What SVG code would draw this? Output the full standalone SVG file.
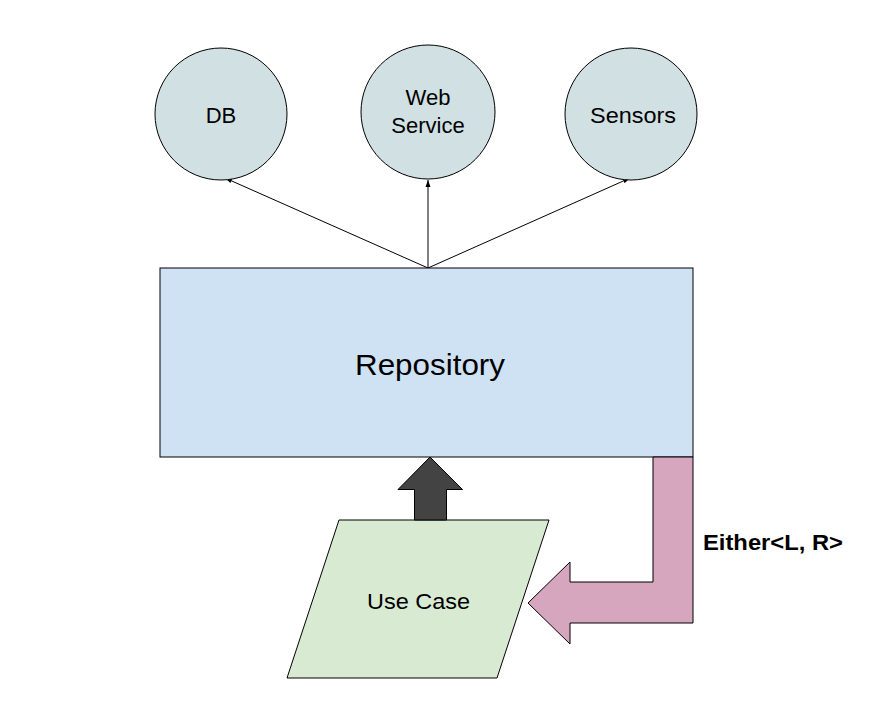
<svg xmlns="http://www.w3.org/2000/svg" width="879" height="709" viewBox="0 0 879 709">
<style>
.t{font-family:"Liberation Sans",Arial,sans-serif;fill:#000;}
.circ{fill:#d0e0e3;stroke:#000;stroke-width:1;}
.edge{stroke:#000;stroke-width:1;fill:none;marker-end:url(#ah);}
</style>
<defs>
<marker id="ah" markerWidth="8" markerHeight="8" refX="7" refY="4" orient="auto" markerUnits="userSpaceOnUse">
<path d="M0,1.5 L7,4 L0,6.5 Z" fill="#000"/>
</marker>
</defs>
<rect width="879" height="709" fill="#fff"/>
<g id="connectors">
<line class="edge" x1="428" y1="268" x2="225" y2="178"/>
<line class="edge" x1="428" y1="268" x2="428" y2="180"/>
<line class="edge" x1="428" y1="268" x2="630" y2="178"/>
</g>
<g id="db">
<circle class="circ" cx="221" cy="114" r="66"/>
<text class="t" x="221" y="122.5" font-size="22" text-anchor="middle">DB</text>
</g>
<g id="webservice">
<circle class="circ" cx="428" cy="112" r="67"/>
<text class="t" x="428" y="105" font-size="22" text-anchor="middle">Web</text>
<text class="t" x="428" y="133" font-size="22" text-anchor="middle">Service</text>
</g>
<g id="sensors">
<circle class="circ" cx="631" cy="114" r="66"/>
<text class="t" x="633" y="122.5" font-size="22" text-anchor="middle" textLength="86" lengthAdjust="spacingAndGlyphs">Sensors</text>
</g>
<g id="repository">
<rect x="160" y="268" width="533" height="189" fill="#cfe2f3" stroke="#000" stroke-width="1"/>
<text class="t" x="430" y="375" font-size="30" text-anchor="middle" textLength="150" lengthAdjust="spacingAndGlyphs">Repository</text>
</g>
<g id="usecase">
<polygon points="339,520 549,520 497,678 287,678" fill="#d9ead3" stroke="#000" stroke-width="1"/>
<text class="t" x="418.5" y="609" font-size="22" text-anchor="middle" textLength="103" lengthAdjust="spacingAndGlyphs">Use Case</text>
</g>
<g id="call-arrow">
<polygon points="430,457 462.5,489.5 446.5,489.5 446.5,520 414.5,520 414.5,489.5 398,489.5" fill="#434343" stroke="#000" stroke-width="1"/>
</g>
<g id="result-arrow">
<polygon points="653,457 693,457 693,623 570,623 570,644 528,603 570,562 570,582 653,582" fill="#d5a6bd" stroke="#000" stroke-width="1"/>
<text class="t" x="703" y="550" font-size="22" font-weight="bold" textLength="140" lengthAdjust="spacingAndGlyphs">Either&lt;L, R&gt;</text>
</g>
</svg>
